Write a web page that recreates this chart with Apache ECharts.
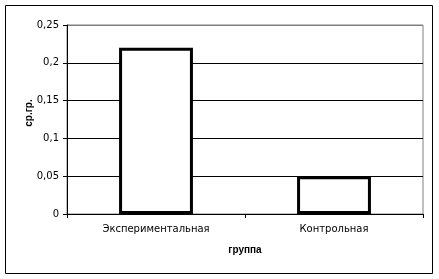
<!DOCTYPE html>
<html>
<head>
<meta charset="utf-8">
<script src="https://cdn.jsdelivr.net/npm/echarts@6/dist/echarts.min.js"></script>
<style>
  html, body { margin: 0; padding: 0; background: #fff; }
  #chart { width: 439px; height: 279px; }
</style>
</head>
<body>
<div id="chart"></div>
<script>
// Group names and mean values
const categories = ['Экспериментальная', 'Контрольная'];
const values = [0.22, 0.05];
const yTicks = [0, 0.05, 0.1, 0.15, 0.2, 0.25];

const font = 'DejaVu Sans, Verdana, sans-serif';
const titleFont = 'Liberation Sans, Arial, sans-serif';
const chart = echarts.init(document.getElementById('chart'), null, { renderer: 'canvas' });

chart.setOption({
  backgroundColor: '#fff',
  animation: false,
  graphic: [{
    type: 'rect',
    shape: { x: 5.5, y: 5.5, width: 427, height: 268 },
    style: { fill: 'none', stroke: '#000', lineWidth: 1 },
    z: 10
  }, {
    // vertical axis title
    type: 'text',
    x: 29, y: 113,
    rotation: Math.PI / 2,
    style: {
      text: 'ср.гр.', fill: '#000',
      font: 'bold 10px ' + titleFont,
      align: 'center', verticalAlign: 'middle'
    },
    z: 10
  }],
  grid: {
    left: 67, right: 16, top: 25, bottom: 65,
    show: true, borderColor: '#808080', borderWidth: 1, backgroundColor: '#fff'
  },
  xAxis: {
    type: 'category',
    data: categories,
    name: 'группа',
    nameLocation: 'middle',
    nameGap: 31,
    nameTextStyle: { fontFamily: titleFont, fontSize: 10, fontWeight: 'bold', color: '#000' },
    axisLine: { lineStyle: { color: '#000', width: 1 } },
    axisTick: { show: true, alignWithLabel: false, length: 4, lineStyle: { color: '#000' } },
    axisLabel: { fontFamily: font, fontSize: 10, color: '#000', margin: 10 }
  },
  yAxis: {
    type: 'value',
    min: yTicks[0],
    max: yTicks[yTicks.length - 1],
    interval: 0.05,
    axisLine: { show: true, lineStyle: { color: '#000', width: 1 } },
    axisTick: { show: true, length: 4, lineStyle: { color: '#000' } },
    axisLabel: {
      fontFamily: font, fontSize: 10, color: '#000', margin: 8,
      formatter: v => String(+v.toFixed(2)).replace('.', ',')
    },
    splitLine: {
      show: true,
      lineStyle: { color: ['#000', '#000', '#000', '#000', '#000', '#808080'], width: 1 }
    }
  },
  series: [{
    type: 'bar',
    data: values,
    barWidth: '41.5%',
    itemStyle: { color: '#fff', borderColor: '#000', borderWidth: 3 }
  }]
});
</script>
</body>
</html>
